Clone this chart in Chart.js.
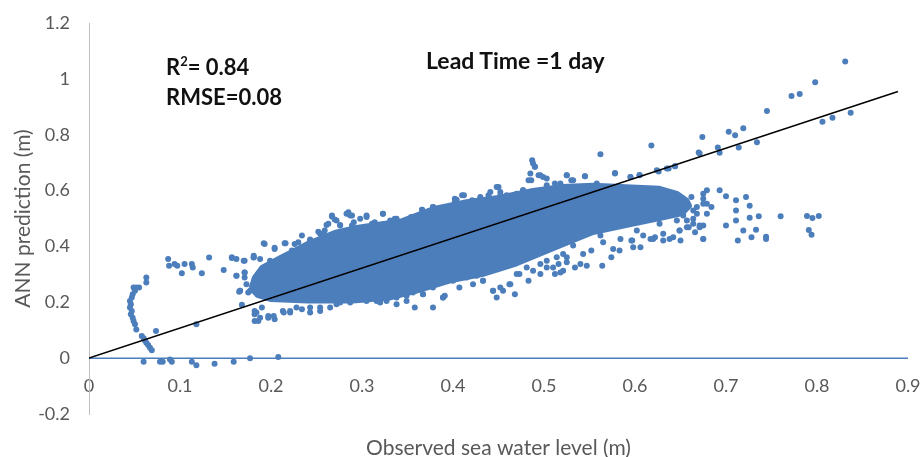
<!DOCTYPE html>
<html>
<head>
<meta charset="utf-8">
<script src="https://cdn.jsdelivr.net/npm/chart.js@4.4.1/dist/chart.umd.min.js"></script>
<style>
  body { margin: 0; background: #fff; }
  #wrap { position: relative; width: 921px; height: 457px; }
  .note { position: absolute; font-family: Lato, sans-serif; font-weight: bold; color: #111; font-size: 22px; line-height: 24px; white-space: nowrap; }
  .note sup { font-size: 13px; line-height: 0; position: relative; top: -1px; }
</style>
</head>
<body>
<div id="wrap">
  <canvas id="myChart" width="921" height="457"></canvas>
  <div class="note" style="left:166px; top:55px;">R<sup>2</sup>= 0.84</div>
  <div class="note" style="left:166px; top:85px;">RMSE=0.08</div>
  <div class="note" style="left:426px; top:48px; font-size:23px;">Lead Time =1 day</div>
</div>
<script>
// axis ticks
const xTicks = [0, 0.1, 0.2, 0.3, 0.4, 0.5, 0.6, 0.7, 0.8, 0.9];
const yTicks = [-0.2, 0, 0.2, 0.4, 0.6, 0.8, 1, 1.2];

// [observed, predicted] pairs
const leftArc = [
  [0.063, 0.289], [0.063, 0.271], [0.049, 0.253], [0.052, 0.253], [0.055, 0.253],
  [0.0505, 0.241], [0.048, 0.229], [0.047, 0.217], [0.045, 0.205], [0.046, 0.193],
  [0.045, 0.181], [0.047, 0.169], [0.046, 0.157], [0.048, 0.145], [0.049, 0.133],
  [0.0505, 0.121], [0.052, 0.103], [0.058, 0.079], [0.060, 0.071], [0.0615, 0.063],
  [0.063, 0.055], [0.065, 0.047], [0.067, 0.037], [0.069, 0.028], [0.0736, 0.097],
  [0.118, 0.121]
];
const lowRow = [
  [0.060, -0.013], [0.078, -0.013], [0.081, -0.013], [0.089, -0.005], [0.091, -0.013],
  [0.113, -0.013], [0.118, -0.025], [0.138, -0.02], [0.159, -0.013], [0.177, 0.0],
  [0.208, 0.004]
];
const leftTop = [
  [0.087, 0.355], [0.088, 0.331], [0.094, 0.337], [0.097, 0.331], [0.102, 0.304],
  [0.105, 0.337], [0.113, 0.337], [0.114, 0.325], [0.124, 0.304], [0.132, 0.360],
  [0.148, 0.316], [0.157, 0.359], [0.162, 0.295], [0.165, 0.238], [0.168, 0.191],
  [0.171, 0.307], [0.181, 0.360], [0.184, 0.163], [0.182, 0.133], [0.186, 0.133],
  [0.197, 0.145]
];
const upperFringe = [
  [0.157, 0.361], [0.162, 0.355], [0.171, 0.349], [0.181, 0.361], [0.193, 0.409],
  [0.204, 0.391], [0.216, 0.411], [0.223, 0.385], [0.230, 0.415], [0.234, 0.397],
  [0.243, 0.425], [0.252, 0.453], [0.258, 0.441], [0.261, 0.477], [0.267, 0.507],
  [0.270, 0.496], [0.276, 0.477], [0.285, 0.522], [0.289, 0.511], [0.291, 0.487],
  [0.298, 0.499], [0.305, 0.505], [0.314, 0.487], [0.323, 0.517], [0.331, 0.493],
  [0.338, 0.499], [0.345, 0.487], [0.354, 0.505], [0.366, 0.531], [0.378, 0.541],
  [0.386, 0.523], [0.395, 0.541], [0.404, 0.567], [0.402, 0.571], [0.412, 0.583],
  [0.421, 0.559], [0.430, 0.571], [0.441, 0.595], [0.450, 0.613], [0.452, 0.583],
  [0.462, 0.559], [0.468, 0.565], [0.477, 0.601], [0.483, 0.637], [0.485, 0.661],
  [0.487, 0.709], [0.490, 0.685], [0.496, 0.655], [0.503, 0.643], [0.512, 0.625],
  [0.525, 0.655], [0.530, 0.637], [0.545, 0.651], [0.562, 0.730], [0.578, 0.661],
  [0.595, 0.649], [0.605, 0.656], [0.618, 0.761], [0.626, 0.668], [0.637, 0.679],
  [0.644, 0.687], [0.671, 0.733]
];
const lowerFringe = [
  [0.162, 0.295], [0.166, 0.241], [0.171, 0.289], [0.177, 0.241], [0.182, 0.157],
  [0.190, 0.181], [0.197, 0.151], [0.204, 0.139], [0.213, 0.169], [0.221, 0.163],
  [0.228, 0.181], [0.243, 0.163], [0.254, 0.181], [0.265, 0.181], [0.276, 0.199],
  [0.287, 0.217], [0.302, 0.211], [0.316, 0.205], [0.327, 0.217], [0.338, 0.193],
  [0.349, 0.205], [0.358, 0.181], [0.367, 0.229], [0.378, 0.181], [0.389, 0.217],
  [0.391, 0.223], [0.407, 0.253], [0.422, 0.265], [0.433, 0.277], [0.444, 0.241],
  [0.455, 0.241], [0.462, 0.265], [0.468, 0.229], [0.473, 0.301], [0.483, 0.277],
  [0.496, 0.301], [0.503, 0.325], [0.512, 0.301], [0.516, 0.337], [0.525, 0.343],
  [0.534, 0.325], [0.540, 0.337], [0.547, 0.331], [0.564, 0.331], [0.574, 0.361],
  [0.583, 0.385], [0.597, 0.421], [0.598, 0.397], [0.606, 0.397], [0.617, 0.427],
  [0.622, 0.433], [0.631, 0.421], [0.638, 0.427], [0.649, 0.457], [0.657, 0.493],
  [0.664, 0.481], [0.675, 0.475], [0.679, 0.517], [0.675, 0.427], [0.664, 0.529],
  [0.653, 0.511], [0.649, 0.541], [0.642, 0.523], [0.679, 0.601], [0.675, 0.571]
];
const cloudTop = [
  [0.192, 0.411], [0.204, 0.395], [0.215, 0.411], [0.226, 0.409], [0.234, 0.439],
  [0.243, 0.421], [0.254, 0.445], [0.259, 0.457], [0.263, 0.481], [0.267, 0.511],
  [0.272, 0.493], [0.276, 0.475], [0.283, 0.517], [0.287, 0.511], [0.289, 0.475],
  [0.305, 0.511], [0.323, 0.517], [0.336, 0.499], [0.296, 0.445], [0.311, 0.481],
  [0.314, 0.445], [0.366, 0.531], [0.378, 0.541], [0.395, 0.541], [0.402, 0.559],
  [0.410, 0.583], [0.413, 0.553], [0.421, 0.565], [0.430, 0.577], [0.439, 0.583],
  [0.448, 0.613], [0.452, 0.595], [0.459, 0.583], [0.470, 0.589], [0.477, 0.601],
  [0.486, 0.637], [0.488, 0.697], [0.490, 0.685], [0.494, 0.655], [0.499, 0.649],
  [0.503, 0.619], [0.510, 0.601], [0.518, 0.625], [0.525, 0.655], [0.532, 0.637],
  [0.545, 0.651], [0.558, 0.625], [0.578, 0.663], [0.595, 0.649], [0.605, 0.655],
  [0.624, 0.673], [0.635, 0.679], [0.644, 0.687]
];
const cloudSide = [
  [0.170, 0.349], [0.171, 0.307], [0.173, 0.265], [0.181, 0.367], [0.182, 0.283],
  [0.188, 0.355], [0.199, 0.349], [0.175, 0.235], [0.166, 0.241],
  [0.662, 0.577], [0.668, 0.541], [0.675, 0.589], [0.679, 0.553], [0.664, 0.499],
  [0.671, 0.475], [0.659, 0.469], [0.649, 0.457], [0.642, 0.433], [0.631, 0.445],
  [0.627, 0.481], [0.620, 0.427], [0.609, 0.439], [0.602, 0.457], [0.596, 0.421],
  [0.584, 0.427], [0.576, 0.391], [0.565, 0.415], [0.562, 0.439], [0.552, 0.385],
  [0.543, 0.373], [0.532, 0.403], [0.525, 0.361], [0.646, 0.493], [0.666, 0.451],
  [0.675, 0.427]
];
const cloudBottom = [
  [0.182, 0.169], [0.188, 0.145], [0.203, 0.151], [0.214, 0.163], [0.221, 0.169],
  [0.234, 0.175], [0.243, 0.181], [0.254, 0.169], [0.272, 0.193], [0.287, 0.199],
  [0.305, 0.205], [0.320, 0.199], [0.327, 0.205], [0.338, 0.217], [0.349, 0.223],
  [0.349, 0.253], [0.356, 0.235], [0.367, 0.229], [0.378, 0.253], [0.389, 0.217],
  [0.400, 0.277], [0.415, 0.289], [0.426, 0.295], [0.433, 0.277], [0.444, 0.241],
  [0.452, 0.253], [0.448, 0.217], [0.463, 0.265], [0.470, 0.301], [0.481, 0.325],
  [0.488, 0.313], [0.496, 0.337], [0.503, 0.349], [0.510, 0.325], [0.514, 0.361],
  [0.521, 0.373], [0.518, 0.307], [0.521, 0.313]
];
const rightCluster = [
  [0.693, 0.601], [0.700, 0.580], [0.711, 0.565], [0.722, 0.577], [0.726, 0.546],
  [0.711, 0.529], [0.726, 0.503], [0.711, 0.493], [0.700, 0.475], [0.719, 0.457],
  [0.733, 0.460], [0.728, 0.433], [0.713, 0.421], [0.744, 0.435], [0.744, 0.427],
  [0.736, 0.508], [0.760, 0.508], [0.789, 0.509], [0.795, 0.502], [0.802, 0.509],
  [0.791, 0.459], [0.794, 0.442], [0.675, 0.553], [0.668, 0.517], [0.684, 0.541],
  [0.671, 0.469], [0.657, 0.469], [0.650, 0.421]
];
const highPoints = [
  [0.831, 1.062], [0.798, 0.988], [0.772, 0.939], [0.781, 0.946], [0.745, 0.885],
  [0.806, 0.846], [0.817, 0.861], [0.837, 0.879], [0.719, 0.823], [0.703, 0.811],
  [0.710, 0.798], [0.674, 0.792], [0.670, 0.736], [0.691, 0.754], [0.693, 0.735],
  [0.714, 0.754], [0.734, 0.773]
];

// outline of the solid part of the cloud
const cloudUpper = [
  [0.178, 0.25], [0.182, 0.29], [0.19, 0.325], [0.21, 0.36], [0.24, 0.41], [0.27, 0.45],
  [0.294, 0.468], [0.32, 0.48], [0.342, 0.49], [0.378, 0.535], [0.415, 0.56], [0.45, 0.575],
  [0.488, 0.60], [0.52, 0.615], [0.554, 0.619], [0.59, 0.614], [0.627, 0.608], [0.646, 0.59],
  [0.657, 0.565], [0.66, 0.545]
];
const cloudLower = [
  [0.652, 0.518], [0.627, 0.50], [0.59, 0.475], [0.554, 0.45], [0.52, 0.405], [0.49, 0.365],
  [0.47, 0.338], [0.433, 0.30], [0.397, 0.277], [0.36, 0.24], [0.33, 0.215], [0.29, 0.205],
  [0.24, 0.205], [0.20, 0.21], [0.185, 0.225], [0.178, 0.25]
];

// linear trend and the zero line the x axis sits on
const fitLine = [[0, 0], [0.889, 0.955]];
const zeroLine = [[0, 0], [0.9, 0]];

const blue = 'rgb(76,126,188)';
const grey = '#595959';

const toXY = arr => arr.map(p => ({ x: p[0], y: p[1] }));
const scatterPts = [].concat(leftArc, lowRow, leftTop, upperFringe, lowerFringe,
  cloudTop, cloudSide, cloudBottom, rightCluster, highPoints);

new Chart(document.getElementById('myChart').getContext('2d'), {
  type: 'scatter',
  data: {
    datasets: [
      {
        type: 'line',
        data: toXY(fitLine),
        borderColor: '#000',
        borderWidth: 1.5,
        pointRadius: 0,
        fill: false,
        order: 0
      },
      {
        data: toXY(scatterPts),
        backgroundColor: blue,
        borderWidth: 0,
        pointRadius: 3,
        order: 1
      },
      {
        type: 'line',
        data: toXY(cloudUpper.concat(cloudLower)),
        borderColor: blue,
        backgroundColor: blue,
        borderWidth: 5,
        borderJoinStyle: 'round',
        pointRadius: 0,
        tension: 0,
        fill: 'shape',
        order: 2
      },
      {
        type: 'line',
        data: toXY(zeroLine),
        borderColor: blue,
        borderWidth: 1.5,
        pointRadius: 0,
        fill: false,
        order: 3
      }
    ]
  },
  options: {
    animation: false,
    responsive: false,
    layout: { padding: { top: 23, right: 0, left: 0, bottom: 0 } },
    plugins: { legend: { display: false }, tooltip: { enabled: false } },
    scales: {
      x: {
        type: 'linear',
        min: 0,
        max: 0.9,
        position: { y: 0 },
        afterBuildTicks: s => { s.ticks = xTicks.map(v => ({ value: v })); },
        ticks: { color: grey, font: { family: 'Lato', size: 18 }, padding: 0, callback: v => String(v) },
        grid: { display: false, drawTicks: true, tickLength: 17 },
        border: { display: false },
        afterFit: s => { s.paddingLeft = 0; s.paddingRight = 13; }
      },
      xTitle: {
        type: 'linear',
        axis: 'x',
        position: 'bottom',
        ticks: { display: false },
        grid: { display: false, drawTicks: false },
        border: { display: false },
        title: {
          display: true,
          text: 'Observed sea water level (m)',
          color: grey,
          font: { family: 'Lato', size: 21 },
          padding: { top: 20, bottom: -4 }
        },
        afterFit: s => { s.height = 43; s.paddingLeft = 0; s.paddingRight = 0; }
      },
      y: {
        min: -0.2,
        max: 1.2,
        afterBuildTicks: s => { s.ticks = yTicks.map(v => ({ value: v })); },
        ticks: { color: grey, font: { family: 'Lato', size: 18 }, padding: 0, callback: v => String(v) },
        grid: { display: false, drawTicks: true, tickLength: 19 },
        border: { color: '#bfbfbf', width: 1 },
        title: {
          display: true,
          text: 'ANN prediction (m)',
          color: grey,
          font: { family: 'Lato', size: 21 },
          padding: { top: 11, bottom: 0 }
        },
        afterFit: s => { s.width = 89; s.paddingTop = 0; s.paddingBottom = 0; }
      }
    }
  }
});
</script>
</body>
</html>
